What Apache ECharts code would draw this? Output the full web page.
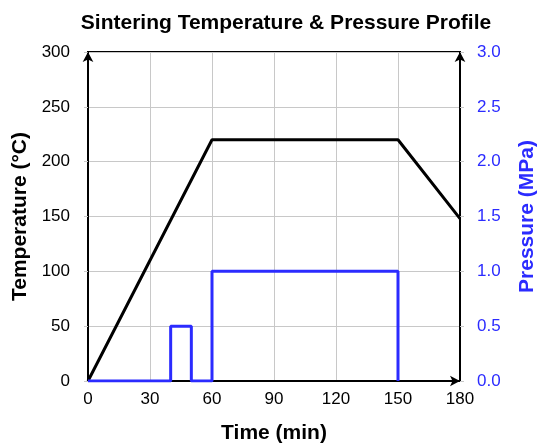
<!DOCTYPE html>
<html>
<head>
<meta charset="utf-8">
<script src="https://cdn.jsdelivr.net/npm/echarts@6/dist/echarts.min.js"></script>
<style>
  html, body { margin: 0; padding: 0; background: #fff; }
  #chart { width: 540px; height: 447px; }
</style>
</head>
<body>
<div id="chart"></div>
<script>
// temperature profile: [time (min), temperature (°C)]
const tempPoints = [[0, 0], [60, 220], [150, 220], [180, 148]];
// pressure profile: [time (min), pressure (MPa)]
const pressurePoints = [
  [0, 0], [40, 0], [40, 0.5], [50, 0.5], [50, 0],
  [60, 0], [60, 1.0], [150, 1.0], [150, 0]
];

const blue = '#2b2bff';
const font = 'Liberation Sans, Arial, sans-serif';

let myChart = echarts.init(document.getElementById('chart'));
myChart.setOption({
  animation: false,
  title: {
    text: 'Sintering Temperature & Pressure Profile',
    left: 281, top: 8, textAlign: 'center',
    textStyle: { fontFamily: font, fontSize: 21, fontWeight: 'bold', color: '#000' }
  },
  grid: {
    left: 88, right: 80, top: 52, bottom: 66,
    outerBoundsMode: 'none',
    show: true, borderColor: '#000', borderWidth: 2
  },
  xAxis: {
    type: 'value', min: 0, max: 180, interval: 30,
    name: 'Time (min)', nameLocation: 'middle', nameGap: 42,
    nameTextStyle: { fontFamily: font, fontSize: 21, fontWeight: 'bold', color: '#000' },
    axisLine: { lineStyle: { color: '#000', width: 2 }, symbol: ['none', 'arrow'], symbolSize: [8, 10] },
    axisTick: { show: false },
    axisLabel: { fontFamily: font, fontSize: 17, color: '#000', margin: 10 },
    splitLine: { lineStyle: { color: '#c8c8c8' } }
  },
  yAxis: [
    {
      type: 'value', min: 0, max: 300, interval: 50,
      name: 'Temperature (°C)', nameLocation: 'middle', nameGap: 57,
      nameTextStyle: { fontFamily: font, fontSize: 21, fontWeight: 'bold', color: '#000' },
      axisLine: { show: true, lineStyle: { color: '#000', width: 2 }, symbol: ['none', 'arrow'], symbolSize: [8, 10] },
      axisTick: { show: true, length: 4, lineStyle: { color: '#c8c8c8' } },
      axisLabel: { fontFamily: font, fontSize: 17, color: '#000', margin: 18 },
      splitLine: { lineStyle: { color: '#c8c8c8' } }
    },
    {
      type: 'value', min: 0, max: 3, interval: 0.5,
      name: 'Pressure (MPa)', nameLocation: 'middle', nameGap: 57, nameRotate: 90,
      nameTextStyle: { fontFamily: font, fontSize: 21, fontWeight: 'bold', color: blue },
      axisLine: { show: true, lineStyle: { color: '#000', width: 2 }, symbol: ['none', 'arrow'], symbolSize: [8, 10] },
      axisTick: { show: true, length: 4, lineStyle: { color: '#c8c8c8' } },
      axisLabel: { fontFamily: font, fontSize: 17, color: blue, margin: 17, formatter: v => v.toFixed(1) },
      splitLine: { show: false }
    }
  ],
  series: [
    {
      name: 'Temperature', type: 'line', yAxisIndex: 0,
      data: tempPoints, symbol: 'none',
      lineStyle: { color: '#000', width: 3 }
    },
    {
      name: 'Pressure', type: 'line', yAxisIndex: 1,
      data: pressurePoints, symbol: 'none',
      lineStyle: { color: blue, width: 3 }
    }
  ]
});
</script>
</body>
</html>
